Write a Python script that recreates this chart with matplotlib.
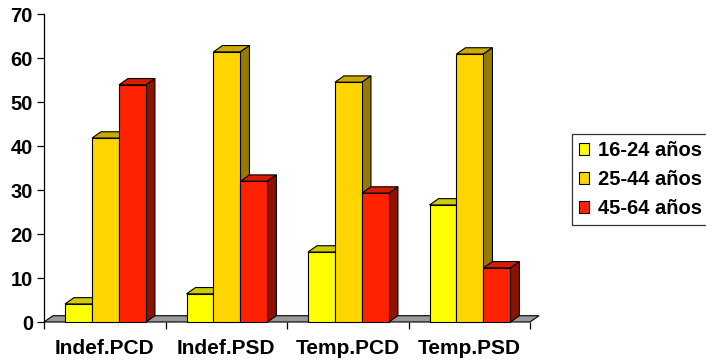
import matplotlib
matplotlib.use("Agg")
import matplotlib.pyplot as plt
from matplotlib.patches import Polygon
import numpy as np

categories = ['Indef.PCD', 'Indef.PSD', 'Temp.PCD', 'Temp.PSD']
series_names = ['16-24 años', '25-44 años', '45-64 años']
s_16_24 = [4.1, 6.4, 15.9, 26.6]
s_25_44 = [41.8, 61.4, 54.5, 60.9]
s_45_64 = [53.9, 32.0, 29.3, 12.3]
y_ticks = [0, 10, 20, 30, 40, 50, 60, 70]

front_colors = ['#FFFF00', '#FFD500', '#FF2200']
top_colors = ['#CCCC00', '#CCAA00', '#D81A00']
side_colors = ['#999900', '#957C00', '#8F1100']

plt.rcParams['font.family'] = ['Liberation Sans', 'DejaVu Sans']
plt.rcParams['font.weight'] = 'bold'

W, H = 706, 360
fig = plt.figure(figsize=(W / 100, H / 100), dpi=100)
ax = fig.add_axes([44 / W, 1 - 322 / H, 486 / W, 308 / H])
ax.set_xlim(-0.5, 3.5)
ax.set_ylim(0, 70)

# depth offset in pixels -> data units
dpx, dpy = 9.0, 6.3
dx = dpx / 486 * 4.0
dy = dpy / 308 * 70.0

x = np.arange(len(categories))
width = 0.222
offsets = [-width, 0.0, width]
offsets = [o + 0.006 for o in offsets]

# floor
floor = Polygon([(-0.5, 0), (3.5, 0), (3.5 + dx, dy), (-0.5 + dx, dy)],
                closed=True, facecolor='#999999', edgecolor='black',
                linewidth=0.8, zorder=1, clip_on=False)
ax.add_patch(floor)

all_series = [s_16_24, s_25_44, s_45_64]
z = 2
handles = []
for ci in range(len(categories)):
    for si, vals in enumerate(all_series):
        xc = x[ci] + offsets[si]
        bc = ax.bar([xc], [vals[ci]], width=width, color=front_colors[si],
                    edgecolor='black', linewidth=0.8, zorder=z + 2,
                    clip_on=False, label=series_names[si] if ci == 0 else None)
        if ci == 0:
            handles.append(bc[0])
        r = bc[0]
        x0, y0 = r.get_x(), r.get_y()
        x1, y1 = x0 + r.get_width(), y0 + r.get_height()
        top = Polygon([(x0, y1), (x1, y1), (x1 + dx, y1 + dy), (x0 + dx, y1 + dy)],
                      closed=True, facecolor=top_colors[si], edgecolor='black',
                      linewidth=0.8, zorder=z, clip_on=False)
        side = Polygon([(x1, y0), (x1 + dx, y0 + dy), (x1 + dx, y1 + dy), (x1, y1)],
                       closed=True, facecolor=side_colors[si], edgecolor='black',
                       linewidth=0.8, zorder=z + 1, clip_on=False)
        ax.add_patch(top)
        ax.add_patch(side)
        z += 3

for s in ['top', 'right', 'bottom']:
    ax.spines[s].set_visible(False)
ax.spines['left'].set_linewidth(0.9)
ax.spines['left'].set_zorder(100)

ax.set_yticks(y_ticks)
ax.set_yticklabels([str(t) for t in y_ticks], fontsize=14.5, fontweight='bold')
ax.tick_params(axis='y', direction='out', length=5, width=0.9, pad=3)

ax.set_xticks(x)
ax.set_xticklabels(categories, fontsize=15, fontweight='bold')
ax.tick_params(axis='x', which='major', length=0, pad=12)
ax.set_xticks(np.arange(-0.5, 4.0, 1.0), minor=True)
ax.tick_params(axis='x', which='minor', direction='out', length=5, width=0.9)

leg = fig.legend(handles=handles, labels=series_names, loc='upper left',
                 bbox_to_anchor=(572 / W, 1 - 134 / H), borderaxespad=0,
                 frameon=True, fancybox=False, edgecolor='black',
                 prop={'weight': 'bold', 'size': 14.5},
                 handlelength=0.5, handleheight=0.5, handletextpad=0.45,
                 labelspacing=0.5, borderpad=0.35)
leg.get_frame().set_linewidth(0.9)

fig.savefig('out.png', dpi=100)
